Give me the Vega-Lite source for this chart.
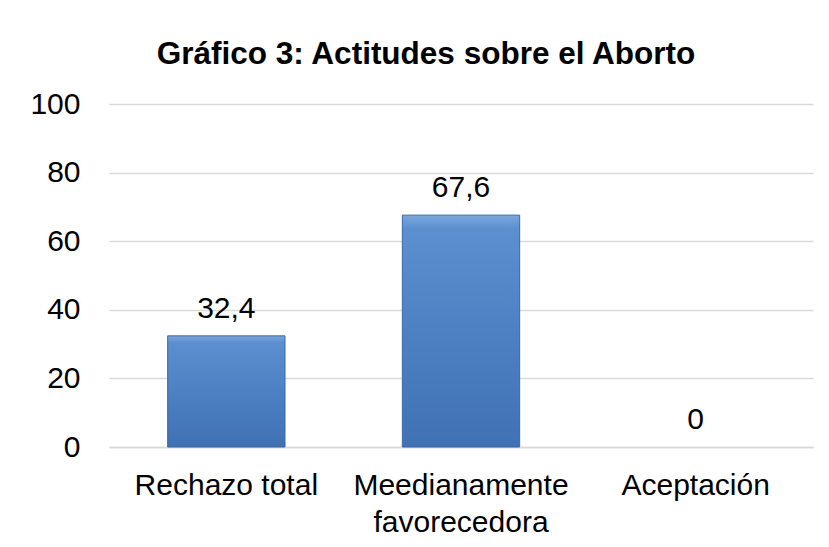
{
  "$schema": "https://vega.github.io/schema/vega-lite/v6.json",
  "width": 704,
  "height": 343,
  "autosize": {"type": "none"},
  "padding": {"left": 109, "top": 104, "right": 16, "bottom": 100},
  "background": "white",
  "config": {
    "font": "Liberation Sans",
    "view": {"stroke": null}
  },
  "title": {
    "text": "Gráfico 3: Actitudes sobre el Aborto",
    "font": "Liberation Sans",
    "fontSize": 31.5,
    "fontWeight": "bold",
    "color": "#000000",
    "anchor": "middle",
    "frame": "group",
    "baseline": "alphabetic",
    "dx": -35,
    "dy": 6,
    "offset": 0
  },
  "data": {
    "values": [
      {"categoria": "Rechazo total", "valor": 32.4, "etiqueta": "32,4"},
      {"categoria": "Meedianamente favorecedora", "valor": 67.6, "etiqueta": "67,6"},
      {"categoria": "Aceptación", "valor": 0, "etiqueta": "0"}
    ]
  },
  "encoding": {
    "x": {
      "field": "categoria",
      "type": "nominal",
      "sort": null,
      "scale": {"paddingInner": 0.5, "paddingOuter": 0.25},
      "axis": {
        "title": null,
        "labelAngle": 0,
        "labelFontSize": 30,
        "labelColor": "#000000",
        "labelPadding": 23,
        "labelLineHeight": 37,
        "labelLimit": 0,
        "labelExpr": "datum.label == 'Meedianamente favorecedora' ? ['Meedianamente', 'favorecedora'] : datum.label",
        "ticks": false,
        "tickSize": 0,
        "domain": true,
        "domainColor": "#d9d9d9",
        "domainWidth": 1.5,
        "grid": false
      }
    },
    "y": {
      "field": "valor",
      "type": "quantitative",
      "scale": {"domain": [0, 100], "nice": false},
      "axis": {
        "title": null,
        "values": [0, 20, 40, 60, 80, 100],
        "labelFontSize": 30,
        "labelColor": "#000000",
        "labelPadding": 29,
        "ticks": false,
        "tickSize": 0,
        "domain": false,
        "grid": true,
        "gridColor": "#d9d9d9",
        "gridWidth": 1.5
      }
    }
  },
  "layer": [
    {
      "mark": {
        "type": "bar",
        "stroke": "#3a68a6",
        "strokeWidth": 1,
        "color": {
          "gradient": "linear",
          "x1": 0, "y1": 0, "x2": 0, "y2": 1,
          "stops": [
            {"offset": 0, "color": "#7aa7dc"},
            {"offset": 0.06, "color": "#5b8fd0"},
            {"offset": 1, "color": "#3f71b4"}
          ]
        }
      },
      "encoding": {
        "opacity": {"condition": {"test": "datum.valor > 0", "value": 1}, "value": 0}
      }
    },
    {
      "mark": {
        "type": "text",
        "fontSize": 30,
        "color": "#000000",
        "baseline": "alphabetic",
        "dy": -18
      },
      "encoding": {
        "text": {"field": "etiqueta", "type": "nominal"}
      }
    }
  ]
}
